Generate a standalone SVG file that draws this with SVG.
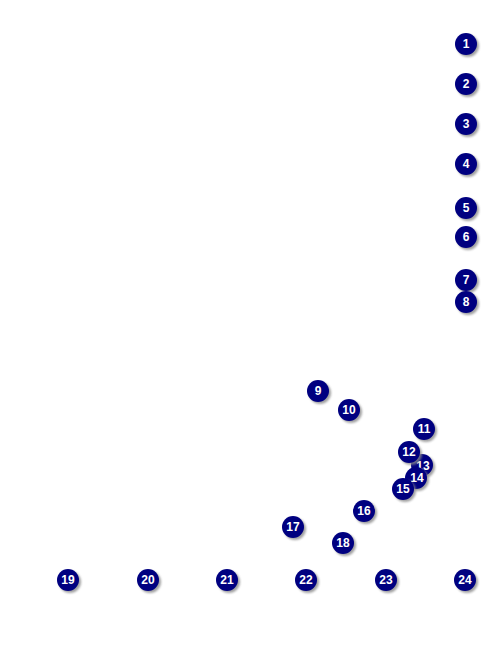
<svg xmlns="http://www.w3.org/2000/svg" width="482" height="650" viewBox="0 0 482 650">
<style>
.sh{fill:#8a8a8a;opacity:0.8}
.c{fill:#000080}
.t{fill:#fff;font-family:"Liberation Sans",Arial,sans-serif;font-weight:bold;font-size:12px;text-anchor:middle;dominant-baseline:central}
</style>
<defs>
<filter id="blur" x="-50%" y="-50%" width="200%" height="200%"><feGaussianBlur stdDeviation="0.8"/></filter>
</defs>
<rect width="482" height="650" fill="#fff"/>
<g id="connectors"></g>
<g id="n1"><circle class="sh" cx="468" cy="46" r="11" filter="url(#blur)"/><circle class="c" cx="466" cy="44" r="11"/><text class="t" x="466" y="44">1</text></g>
<g id="n2"><circle class="sh" cx="468" cy="86" r="11" filter="url(#blur)"/><circle class="c" cx="466" cy="84" r="11"/><text class="t" x="466" y="84">2</text></g>
<g id="n3"><circle class="sh" cx="468" cy="126" r="11" filter="url(#blur)"/><circle class="c" cx="466" cy="124" r="11"/><text class="t" x="466" y="124">3</text></g>
<g id="n4"><circle class="sh" cx="468" cy="166" r="11" filter="url(#blur)"/><circle class="c" cx="466" cy="164" r="11"/><text class="t" x="466" y="164">4</text></g>
<g id="n5"><circle class="sh" cx="468" cy="210" r="11" filter="url(#blur)"/><circle class="c" cx="466" cy="208" r="11"/><text class="t" x="466" y="208">5</text></g>
<g id="n6"><circle class="sh" cx="468" cy="239" r="11" filter="url(#blur)"/><circle class="c" cx="466" cy="237" r="11"/><text class="t" x="466" y="237">6</text></g>
<g id="n7"><circle class="sh" cx="468" cy="282" r="11" filter="url(#blur)"/><circle class="c" cx="466" cy="280" r="11"/><text class="t" x="466" y="280">7</text></g>
<g id="n8"><circle class="sh" cx="468" cy="304" r="11" filter="url(#blur)"/><circle class="c" cx="466" cy="302" r="11"/><text class="t" x="466" y="302">8</text></g>
<g id="n9"><circle class="sh" cx="320" cy="393" r="11" filter="url(#blur)"/><circle class="c" cx="318" cy="391" r="11"/><text class="t" x="318" y="391">9</text></g>
<g id="n10"><circle class="sh" cx="351" cy="412" r="11" filter="url(#blur)"/><circle class="c" cx="349" cy="410" r="11"/><text class="t" x="349" y="410">10</text></g>
<g id="n11"><circle class="sh" cx="426" cy="431" r="11" filter="url(#blur)"/><circle class="c" cx="424" cy="429" r="11"/><text class="t" x="424" y="429">11</text></g>
<g id="n13"><circle class="sh" cx="424" cy="467" r="11" filter="url(#blur)"/><circle class="c" cx="422" cy="465" r="11"/><text class="t" x="423" y="466">13</text></g>
<g id="n12"><circle class="sh" cx="411" cy="454" r="11" filter="url(#blur)"/><circle class="c" cx="409" cy="452" r="11"/><text class="t" x="409" y="452">12</text></g>
<g id="n14"><circle class="sh" cx="418" cy="480" r="11" filter="url(#blur)"/><circle class="c" cx="416" cy="478" r="11"/><text class="t" x="417" y="478">14</text></g>
<g id="n15"><circle class="sh" cx="405" cy="491" r="11" filter="url(#blur)"/><circle class="c" cx="403" cy="489" r="11"/><text class="t" x="403" y="489">15</text></g>
<g id="n16"><circle class="sh" cx="366" cy="513" r="11" filter="url(#blur)"/><circle class="c" cx="364" cy="511" r="11"/><text class="t" x="364" y="511">16</text></g>
<g id="n17"><circle class="sh" cx="295" cy="529" r="11" filter="url(#blur)"/><circle class="c" cx="293" cy="527" r="11"/><text class="t" x="293" y="527">17</text></g>
<g id="n18"><circle class="sh" cx="345" cy="545" r="11" filter="url(#blur)"/><circle class="c" cx="343" cy="543" r="11"/><text class="t" x="343" y="543">18</text></g>
<g id="n19"><circle class="sh" cx="70" cy="582" r="11" filter="url(#blur)"/><circle class="c" cx="68" cy="580" r="11"/><text class="t" x="68" y="580">19</text></g>
<g id="n20"><circle class="sh" cx="150" cy="582" r="11" filter="url(#blur)"/><circle class="c" cx="148" cy="580" r="11"/><text class="t" x="148" y="580">20</text></g>
<g id="n21"><circle class="sh" cx="229" cy="582" r="11" filter="url(#blur)"/><circle class="c" cx="227" cy="580" r="11"/><text class="t" x="227" y="580">21</text></g>
<g id="n22"><circle class="sh" cx="308" cy="582" r="11" filter="url(#blur)"/><circle class="c" cx="306" cy="580" r="11"/><text class="t" x="306" y="580">22</text></g>
<g id="n23"><circle class="sh" cx="388" cy="582" r="11" filter="url(#blur)"/><circle class="c" cx="386" cy="580" r="11"/><text class="t" x="386" y="580">23</text></g>
<g id="n24"><circle class="sh" cx="467" cy="582" r="11" filter="url(#blur)"/><circle class="c" cx="465" cy="580" r="11"/><text class="t" x="465" y="580">24</text></g>
</svg>
